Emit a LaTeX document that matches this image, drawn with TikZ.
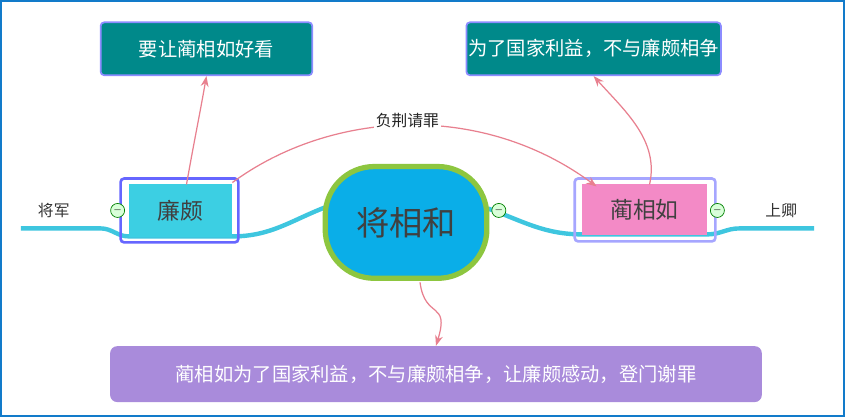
\documentclass[tikz,border=0pt]{standalone}
\usepackage{fontspec}
\newfontfamily\cjk{Noto Sans CJK SC}
\usetikzlibrary{arrows.meta}
\definecolor{teal1}{HTML}{00898A}
\definecolor{pinkline}{HTML}{E8808F}
\definecolor{branch}{HTML}{3EC6DF}
\definecolor{centerfill}{HTML}{0AAEE8}
\definecolor{centerdraw}{HTML}{8DC63F}
\definecolor{lianfill}{HTML}{3CCFE3}
\definecolor{linfill}{HTML}{F38AC6}
\definecolor{ganfill}{HTML}{A98BDB}
\tikzset{
  topic/.style={draw=#1, line width=1pt, rounded corners=2pt, fill=teal1, text=white, font=\cjk\fontsize{11}{13}\selectfont, inner sep=0pt},
  rel/.style={draw=pinkline, line width=0.7pt, -{Stealth[length=6pt]}},
  fold/.style={circle, draw=green!50!black, fill=green!15, inner sep=0pt, minimum size=8pt, font=\tiny}
}
\begin{document}
\begin{tikzpicture}[x=0.02cm, y=-0.02cm]
  % 边框
  \draw[draw=cyan!60!blue, line width=1pt, fill=white] (0,0) rectangle (845,416);
  % 分支线
  \draw[branch, line width=2.5pt] (20,228) -- (100,228) to[out=0,in=180] (128,236) -- (232,236) to[out=0,in=200] (330,205);
  \draw[branch, line width=2.5pt] (488,208) to[out=-20,in=180] (583,234) -- (708,234) to[out=0,in=180] (740,228) -- (815,228);
  % 中心主题
  \node[draw=centerdraw, line width=3pt, fill=centerfill, rounded corners=28pt,
        minimum width=162*0.02cm, minimum height=112*0.02cm, inner sep=0pt, text=black!75,
        font=\cjk\fontsize{19}{22}\selectfont] (center) at (406,222) {将相和};
  % 子主题
  \draw[draw=blue!60, line width=1.5pt, rounded corners=2pt] (120,178) rectangle (238,242);
  \node[fill=lianfill, inner sep=0pt, text=black!75,
        font=\cjk\fontsize{13}{15}\selectfont, minimum height=53*0.02cm, minimum width=104*0.02cm] (lian) at (180,210) {廉颇};
  \draw[draw=blue!35, line width=1.5pt, rounded corners=2pt] (575,178) rectangle (716,241);
  \node[fill=linfill, inner sep=0pt, text=black!75,
        font=\cjk\fontsize{13}{15}\selectfont, minimum height=51*0.02cm, minimum width=125*0.02cm] (lin) at (645,209) {蔺相如};
  % 标签
  \node[font=\cjk\fontsize{9}{11}\selectfont, text=black!80] (jiang) at (53,210) {将军};
  \node[font=\cjk\fontsize{9}{11}\selectfont, text=black!80] (shang) at (782,210) {上卿};
  \node[fold] (f1) at (117,210) {$-$};
  \node[fold] (f2) at (499,210) {$-$};
  \node[fold] (f3) at (718,210) {$-$};
  % 上方和下方主题
  \node[topic=blue!45, minimum width=212*0.02cm, minimum height=53*0.02cm] (kan) at (206,48) {要让蔺相如好看};
  \node[topic=blue!45, minimum width=255*0.02cm, minimum height=53*0.02cm] (yi) at (594,48) {为了国家利益，不与廉颇相争};
  \node[fill=ganfill, rounded corners=4pt, inner sep=0pt, text=white,
        font=\cjk\fontsize{11}{13}\selectfont, minimum width=653*0.02cm, minimum height=56*0.02cm] (gan) at (436,374)
        {蔺相如为了国家利益，不与廉颇相争，让廉颇感动，登门谢罪};
  % 联系
  \draw[rel] (186,184) to[out=80,in=-100] (kan.south);
  \draw[rel] (232,182) .. controls (330,110) and (480,100) .. node[pos=0.5, above=-3pt, fill=white, inner sep=1pt,
        font=\cjk\fontsize{9}{11}\selectfont, text=black!85] (fu) {负荆请罪} (597,186);
  \draw[rel] (650,184) .. controls (660,140) and (625,110) .. (yi.south);
  \draw[rel] (420,282) .. controls (425,320) and (450,300) .. (gan.north);
\end{tikzpicture}
\end{document}
